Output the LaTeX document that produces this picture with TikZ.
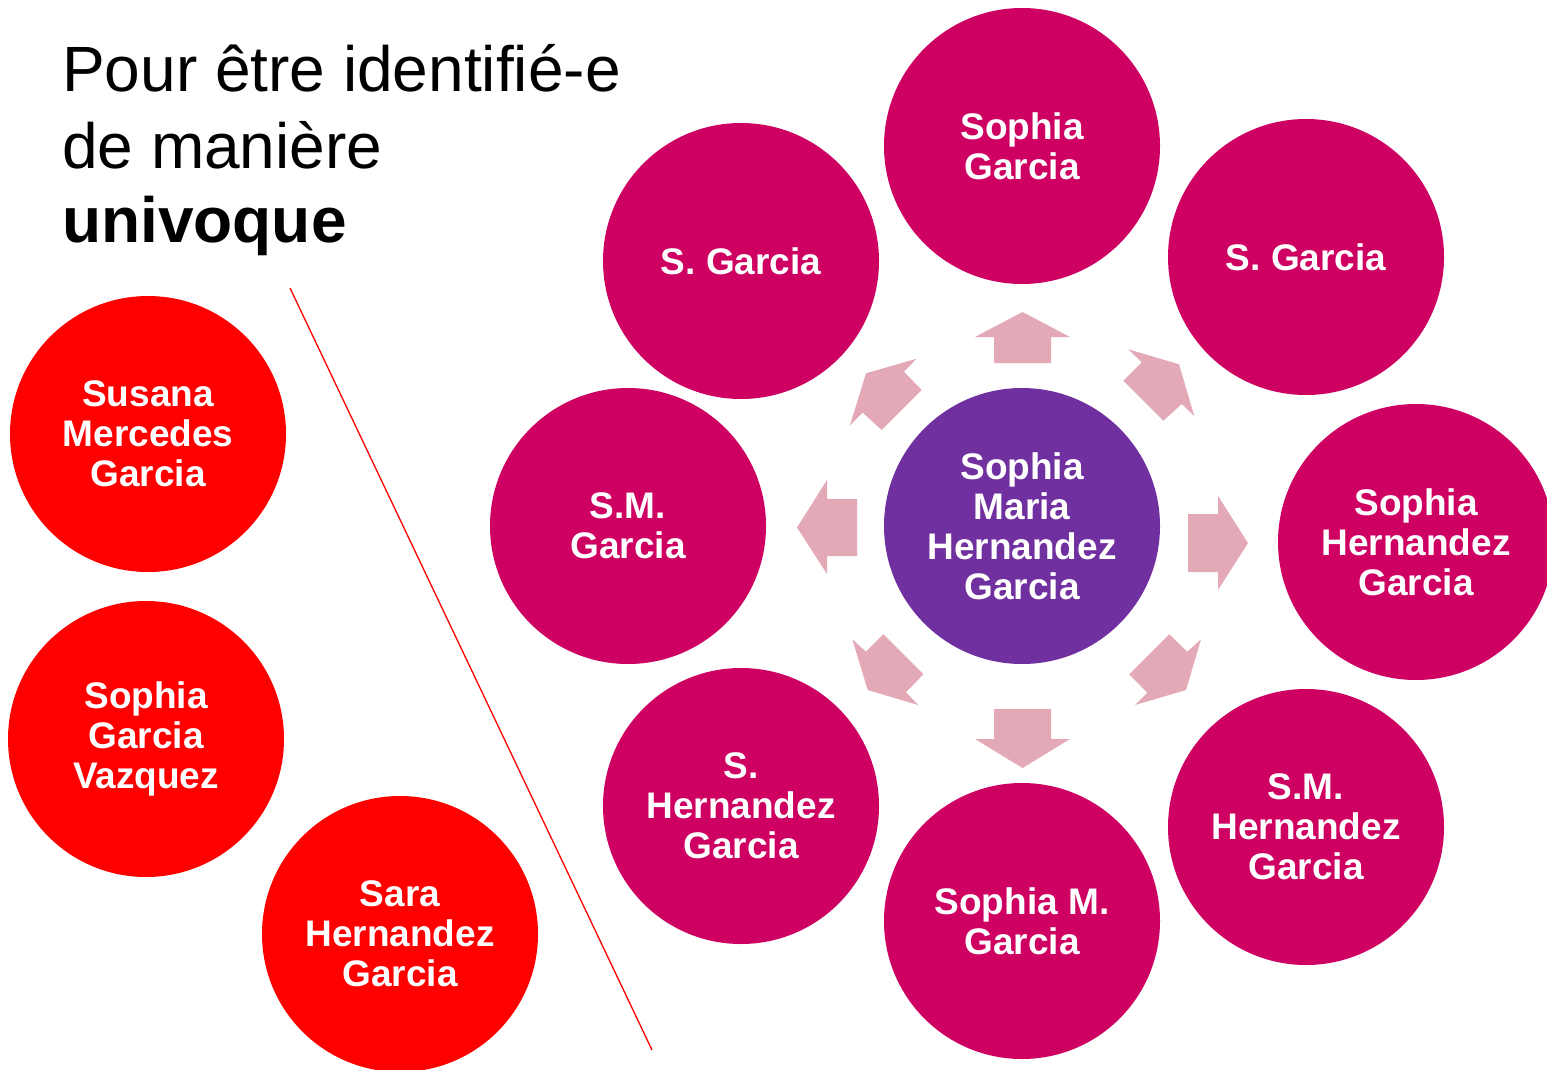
\documentclass[tikz,border=0pt]{standalone}
\usepackage{fontspec}
\setmainfont{Liberation Sans}
\definecolor{magentaC}{RGB}{206,0,98}
\definecolor{purpleC}{RGB}{112,48,160}
\definecolor{redC}{RGB}{255,0,0}
\definecolor{arrowC}{RGB}{227,169,182}
\begin{document}
\begin{tikzpicture}[x=1pt,y=-1pt,
  bubble/.style={circle,inner sep=0pt,minimum size=276pt,text=white,align=center,
    font=\bfseries\fontsize{37}{40}\selectfont},
  mag/.style={bubble,fill=magentaC},
  pur/.style={bubble,fill=purpleC},
  rd/.style={bubble,fill=redC},
  blockarrow/.style={fill=arrowC,draw=none},
  title/.style={anchor=base west,inner sep=0pt,font=\fontsize{64}{76}\selectfont}]
\useasboundingbox (0,0) rectangle (1547,1070);
\fill[white] (0,0) rectangle (1547,1070);
% title
\node[title] (t1) at (62,92) {Pour être identifié-e};
\node[title] (t2) at (62,168) {de manière};
\node[title,font=\bfseries\fontsize{64}{76}\selectfont] (t3) at (62,242) {univoque};
% separator line
\coordinate (l1) at (290,288);
\coordinate (l2) at (652,1050);
\draw[redC,line width=1.3pt] (l1) -- (l2);
% left red circles
\node[rd] (susana) at (148,434) {Susana\\Mercedes\\Garcia};
\node[rd] (vazquez) at (146,739) {Sophia\\Garcia\\Vazquez};
\node[rd] (sara) at (400,934) {Sara\\Hernandez\\Garcia};
% center
\node[pur] (center) at (1022,526) {Sophia\\Maria\\Hernandez\\Garcia};
% surrounding
\node[mag] (top) at (1022,146) {Sophia\\Garcia};
\node[mag] (tl) at (741,261) {S. Garcia};
\node[mag] (tr) at (1306,257) {S. Garcia};
\node[mag] (left) at (628,526) {S.M.\\Garcia};
\node[mag] (right) at (1416,542) {Sophia\\Hernandez\\Garcia};
\node[mag] (bl) at (741,806) {S.\\Hernandez\\Garcia};
\node[mag] (bottom) at (1022,921) {Sophia M.\\Garcia};
\node[mag] (br) at (1306,827) {S.M.\\Hernandez\\Garcia};
% block arrows
% up
\fill[blockarrow] (994,363) -- (994,337) -- (975,337) -- (1022.5,312) -- (1070,337) -- (1051,337) -- (1051,363) -- cycle;
% down
\fill[blockarrow] (994,709) -- (994,739) -- (975,739) -- (1022.5,768) -- (1070,739) -- (1051,739) -- (1051,709) -- cycle;
% left
\fill[blockarrow] (857,499) -- (827,499) -- (827,480) -- (797,527.5) -- (827,574) -- (827,556) -- (857,556) -- cycle;
% right
\fill[blockarrow] (1188,514) -- (1218,514) -- (1218,496) -- (1248,543) -- (1218,590) -- (1218,572) -- (1188,572) -- cycle;
% upper left
\fill[blockarrow] (866,373.3) -- (916.7,358.7) -- (904,371.7) -- (921.7,390) -- (881.7,430) -- (862.7,412.7) -- (850,425.3) -- cycle;
% upper right
\fill[blockarrow] (1179,364.3) -- (1128.3,349.3) -- (1141.7,362.3) -- (1123.3,380.7) -- (1163.3,420.7) -- (1181.7,404) -- (1194.3,416) -- cycle;
% lower left
\fill[blockarrow] (867.7,690) -- (852.3,639.3) -- (866,651.7) -- (883.3,634.3) -- (923.3,674.3) -- (906,692.3) -- (918.3,705) -- cycle;
% lower right
\fill[blockarrow] (1186,690) -- (1201,639.3) -- (1187.3,651.7) -- (1169.3,634.3) -- (1129.3,674.3) -- (1147.3,692.7) -- (1135,705) -- cycle;
\end{tikzpicture}
\end{document}
